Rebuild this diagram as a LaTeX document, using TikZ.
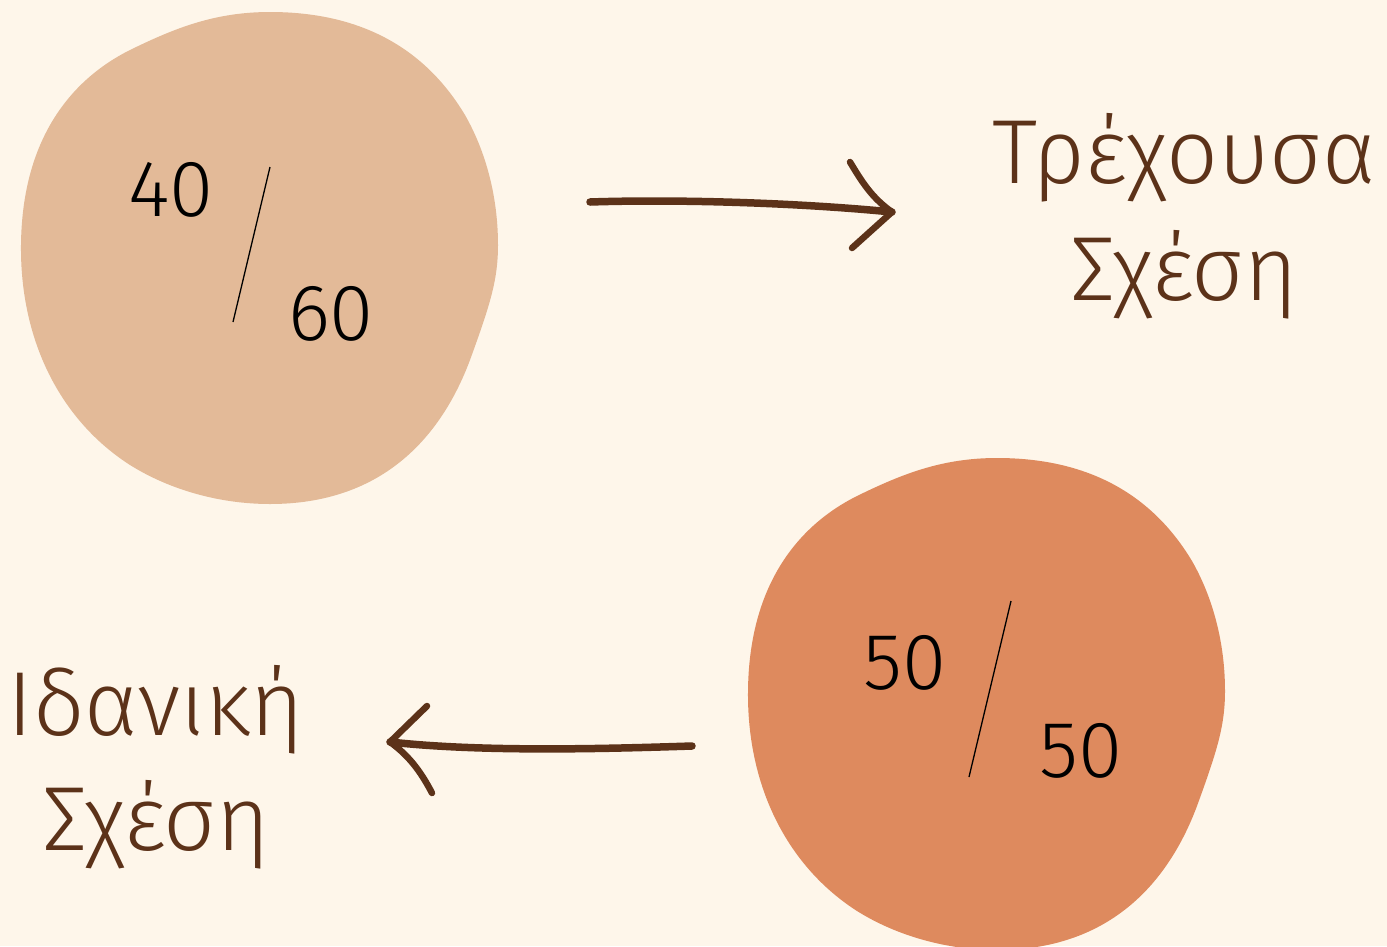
\documentclass[tikz,border=0pt]{standalone}
\usepackage{fontspec}
\setmainfont{Fira Sans}[UprightFont={* Light}]
\definecolor{bg}{HTML}{FEF6EA}
\definecolor{blobA}{HTML}{E3BA98}
\definecolor{blobB}{HTML}{DE8A5E}
\definecolor{ink}{HTML}{5C3219}
\tikzset{
  label/.style={font=\fontsize{91}{100}\selectfont, text=ink, anchor=base, inner sep=0pt},
  num/.style={font=\fontsize{80}{90}\selectfont, text=black, inner sep=0pt},
  slash/.style={draw=black, line width=1.3pt},
  brush/.style={draw=ink, line width=7.5pt, line cap=round, line join=round},
  barb/.style={draw=ink, line width=6.5pt, line cap=round},
}
\def\myblob{(270,12) .. controls (215,12) and (175,28) .. (130,50)
 .. controls (70,80) and (22,140) .. (21,245)
 .. controls (20,340) and (60,420) .. (130,465)
 .. controls (170,490) and (220,504) .. (270,504)
 .. controls (380,504) and (440,440) .. (470,360)
 .. controls (490,305) and (498,280) .. (498,245)
 .. controls (498,195) and (485,150) .. (465,115)
 .. controls (420,40) and (350,12) .. (270,12) -- cycle}
\begin{document}
\begin{tikzpicture}[x=1pt,y=-1pt]
\useasboundingbox (0,0) rectangle (1387,946);
\fill[bg] (0,0) rectangle (1387,946);
% blobs
\fill[blobA] \myblob;
\begin{scope}[shift={(727,446)}]
\fill[blobB] \myblob;
\end{scope}
% numbers
\node[num] (n40) at (171,190) {40};
\node[num] (n60) at (331,314) {60};
\coordinate (s1a) at (270,167);
\coordinate (s1b) at (233,322);
\draw[slash] (s1a) -- (s1b);
\node[num] (n50a) at (905,663) {50};
\node[num] (n50b) at (1081,751) {50};
\coordinate (s2a) at (1011,601);
\coordinate (s2b) at (969,777);
\draw[slash] (s2a) -- (s2b);
% labels
\node[label] (cur1) at (1184,183) {Τρέχουσα};
\node[label] (cur2) at (1184,300) {Σχέση};
\node[label] (id1) at (156,735) {Ιδανική};
\node[label] (id2) at (156,850) {Σχέση};
% top arrow
\coordinate (a1s) at (590,202);
\coordinate (a1e) at (892,212);
\coordinate (a1u) at (850,162);
\coordinate (a1l) at (852,248);
\draw[brush] (a1s) .. controls (680,199) and (800,203) .. (a1e);
\draw[barb] (a1u) .. controls (862,182) and (872,198) .. (a1e);
\draw[barb] (a1l) -- (a1e);
% bottom arrow
\coordinate (a2s) at (692,746);
\coordinate (a2e) at (390,742);
\coordinate (a2u) at (427,706);
\coordinate (a2l) at (432,793);
\draw[brush] (a2s) .. controls (600,749) and (480,752) .. (a2e);
\draw[barb] (a2u) -- (a2e);
\draw[barb] (a2l) .. controls (420,770) and (408,755) .. (a2e);
\end{tikzpicture}
\end{document}
